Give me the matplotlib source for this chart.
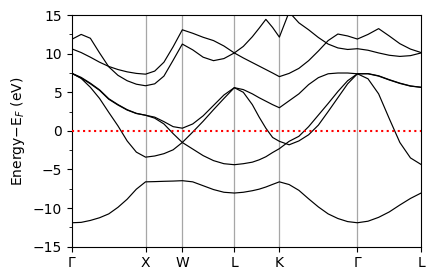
import numpy as np
import matplotlib
matplotlib.use("Agg")
import matplotlib.pyplot as plt
from matplotlib.ticker import MultipleLocator

# high-symmetry path (fcc), segment lengths in units of 2pi/a
labels = ['Γ', 'X', 'W', 'L', 'K', 'Γ', 'L']
seg_len = [1.0, 0.5, 0.7071, 0.6124, 1.0607, 0.8660]

# sample fractions along each segment (first point only on the first segment)
seg_frac = [
    [0, 0.125, 0.25, 0.375, 0.5, 0.625, 0.75, 0.875, 1.0],
    [0.25, 0.5, 0.75, 1.0],
    [0.2, 0.4, 0.6, 0.8, 1.0],
    [0.2, 0.4, 0.55, 0.7, 0.85, 1.0],
    [0.125, 0.25, 0.375, 0.5, 0.625, 0.75, 0.875, 1.0],
    [1/6, 2/6, 3/6, 4/6, 5/6, 1.0],
]

band1 = [-11.9, -11.85, -11.6, -11.25, -10.75, -9.9, -8.85, -7.55, -6.6,
         -6.57, -6.53, -6.5, -6.45,
         -6.6, -7.1, -7.6, -7.95, -8.05,
         -7.95, -7.75, -7.55, -7.27, -6.93, -6.6,
         -6.95, -7.7, -8.8, -9.85, -10.75, -11.35, -11.75, -11.9,
         -11.7, -11.2, -10.5, -9.6, -8.75, -8.05]
band2 = [7.45, 6.8, 5.65, 4.2, 2.4, 0.65, -1.3, -2.75, -3.4,
         -3.25, -2.95, -2.45, -1.5,
         -0.15, 1.25, 2.75, 4.2, 5.6,
         5.0, 3.4, 1.8, 0.35, -0.85, -1.35,
         -1.8, -1.3, -0.5, 0.75, 2.5, 4.3, 6.1, 7.4,
         6.75, 4.8, 1.6, -1.5, -3.5, -4.35]
band3 = [7.45, 6.85, 6.1, 5.25, 4.1, 3.35, 2.7, 2.25, 2.03,
         1.65, 0.9, -0.35, -1.5,
         -2.35, -3.2, -3.85, -4.25, -4.38,
         -4.25, -4.05, -3.75, -3.35, -2.8, -2.3,
         -1.35, -0.7, 0.55, 2.05, 3.55, 5.1, 6.5, 7.4,
         7.4, 7.1, 6.6, 6.15, 5.8, 5.65]
band4 = [7.45, 6.93, 6.18, 5.32, 4.17, 3.41, 2.75, 2.28, 2.03,
         1.78, 1.2, 0.55, 0.35,
         0.9, 1.95, 3.3, 4.65, 5.6,
         5.35, 4.8, 4.3, 3.85, 3.4, 3.0,
         3.9, 4.8, 6.0, 6.9, 7.4, 7.5, 7.5, 7.4,
         7.42, 7.14, 6.64, 6.19, 5.83, 5.65]
band5 = [10.62, 10.15, 9.55, 8.9, 8.35, 7.95, 7.65, 7.45, 7.35,
         7.75, 8.9, 10.9, 13.1,
         12.65, 12.13, 11.7, 11.0, 10.1,
         9.45, 8.85, 8.4, 7.95, 7.5, 7.03,
         7.45, 8.1, 9.1, 10.35, 11.7, 12.55, 12.3, 11.9,
         12.5, 13.25, 12.3, 11.3, 10.6, 10.15]
band6 = [11.88, 12.5, 12.0, 10.1, 8.3, 7.2, 6.5, 6.05, 5.85,
         6.1, 7.1, 9.15, 11.25,
         10.5, 9.55, 9.1, 9.37, 10.1,
         10.95, 12.2, 13.3, 14.45, 13.4, 12.15,
         15.4, 14.0, 13.1, 12.1, 11.25, 10.75, 10.55, 10.65,
         10.45, 10.1, 9.8, 9.65, 9.75, 10.1]

bands = [band1, band2, band3, band4, band5, band6]

# build k axis
nodes = np.concatenate([[0], np.cumsum(seg_len)])
k = []
for i, fr in enumerate(seg_frac):
    for f in fr:
        k.append(nodes[i] + f * seg_len[i])
k = np.array(k)

fig, ax = plt.subplots(figsize=(4.35, 2.8), dpi=100)
fig.subplots_adjust(left=0.1655, right=0.968, top=0.946, bottom=0.119)

for x in nodes[1:-1]:
    ax.axvline(x, color='0.65', lw=0.9, zorder=1)

for b in bands:
    ax.plot(k, b, color='black', lw=0.85, zorder=2)

ax.axhline(0, color='red', ls=':', lw=1.5, zorder=3)

ax.set_xlim(nodes[0], nodes[-1])
ax.set_ylim(-15, 15)
ax.set_xticks(nodes)
ax.set_xticklabels(labels)
ax.yaxis.set_major_locator(MultipleLocator(5))
ax.yaxis.set_minor_locator(MultipleLocator(2.5))
ax.set_ylabel(r'Energy$-$E$_F$ (eV)')

fig.savefig('out.png', dpi=100)
